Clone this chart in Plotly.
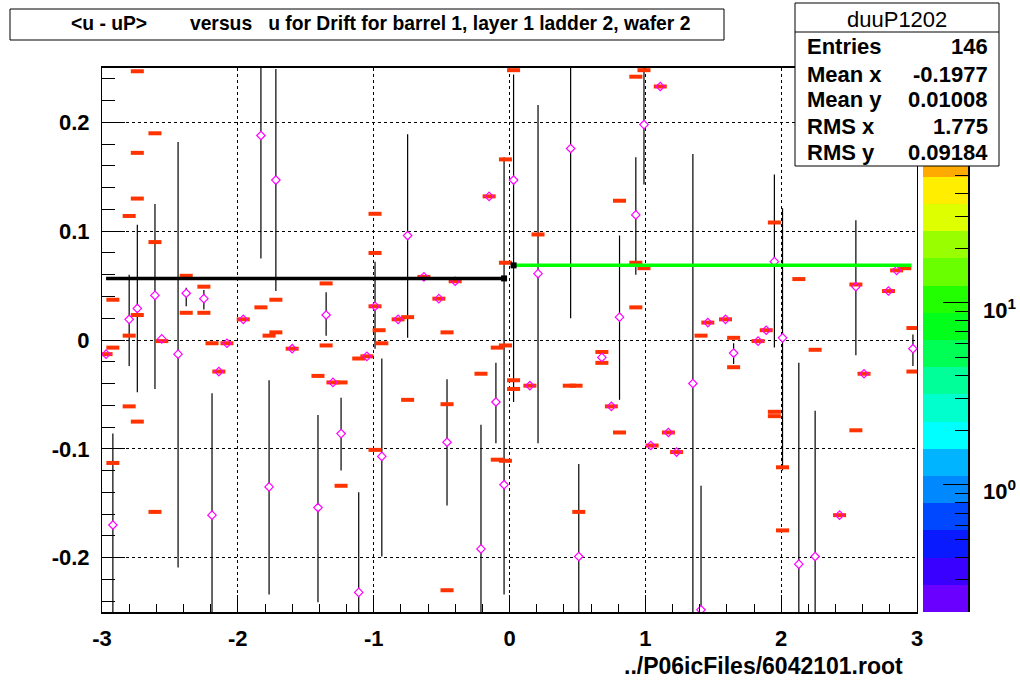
import numpy as np
import plotly.graph_objects as go

W, H = 1020, 680

# ---------------- data ----------------
# profile points (magenta diamonds) with upper / lower ends of their error bars
prof_x = [-2.97, -2.92, -2.80, -2.74, -2.61, -2.56, -2.44, -2.38, -2.25, -2.19, -2.14, -2.08,
          -1.96, -1.83, -1.77, -1.72, -1.60, -1.41, -1.35, -1.30, -1.24, -1.11, -1.05, -0.99,
          -0.94, -0.82, -0.75, -0.63, -0.52, -0.46, -0.40, -0.21, -0.15, -0.10, -0.04, 0.03,
          0.15, 0.21, 0.45, 0.51, 0.68, 0.75, 0.81, 0.93, 0.99, 1.04, 1.11, 1.17, 1.23, 1.35,
          1.41, 1.46, 1.59, 1.65, 1.83, 1.89, 1.95, 2.01, 2.13, 2.25, 2.43, 2.55, 2.61, 2.79,
          2.85, 2.97]
prof_y = [-0.013, -0.170, 0.019, 0.029, 0.041, 0.001, -0.013, 0.043, 0.038, -0.161, -0.029, -0.003,
          0.019, 0.188, -0.135, 0.147, -0.008, -0.154, 0.023, -0.039, -0.086, -0.232, -0.015, 0.031,
          -0.107, 0.019, 0.096, 0.058, 0.038, -0.094, 0.054, -0.192, 0.132, -0.057, -0.133, 0.147,
          -0.042, 0.061, 0.176, -0.199, -0.016, -0.061, 0.021, 0.115, 0.198, -0.097, 0.233, -0.085,
          -0.103, -0.040, -0.248, 0.016, 0.019, -0.012, -0.001, 0.009, 0.072, 0.002, -0.206, -0.199,
          -0.161, 0.049, -0.031, 0.045, 0.064, -0.008]
prof_hi = [-0.013, -0.086, 0.060, 0.106, 0.125, 0.001, 0.182, 0.048, 0.046, -0.049, -0.029, -0.003,
           0.019, 0.270, -0.037, 0.249, -0.008, -0.069, 0.044, -0.039, -0.053, -0.140, -0.015, 0.072,
           -0.017, 0.019, 0.189, 0.058, 0.038, -0.036, 0.054, -0.078, 0.132, -0.021, 0.168, 0.244,
           -0.042, 0.216, 0.270, -0.114, -0.016, -0.061, 0.096, 0.168, 0.270, -0.097, 0.233, -0.085,
           -0.103, 0.171, -0.134, 0.016, 0.019, -0.003, -0.001, 0.009, 0.152, 0.121, -0.021, -0.065,
           -0.161, 0.110, -0.031, 0.045, 0.064, 0.005]
prof_lo = [-0.013, -0.270, -0.024, -0.048, -0.045, 0.001, -0.209, 0.031, 0.028, -0.270, -0.029, -0.003,
           0.019, 0.075, -0.234, 0.045, -0.008, -0.241, 0.004, -0.039, -0.120, -0.270, -0.015, -0.008,
           -0.199, 0.019, 0.002, 0.058, 0.038, -0.152, 0.054, -0.270, 0.132, -0.095, -0.234, -0.057,
           -0.042, -0.095, 0.020, -0.270, -0.016, -0.061, -0.055, 0.060, 0.143, -0.097, 0.233, -0.085,
           -0.103, -0.270, -0.270, 0.016, 0.019, -0.022, -0.001, 0.009, -0.007, -0.120, -0.270, -0.270,
           -0.161, -0.014, -0.031, 0.045, 0.064, -0.024]

# occupied 2D-histogram cells (red bars)
cell_x = [-2.74, -2.61, -2.74, -2.74, -2.80, -2.61, -2.38, -2.25, -2.92, -1.83, -1.72, -1.35, -0.99,
          -0.99, -2.74, -2.38, -2.25, -2.80, -1.77, -1.72, -1.96, -0.99, -0.96,
          -2.92, -2.97, -2.56, -2.19, -2.08, -1.60, -1.35, -1.11, -1.05, -2.14, -1.41, -1.30, -1.24,
          -2.80, -2.74, -0.99, -2.92, -1.24, -2.61,
          0.03, -0.03, -0.03, -0.15, 0.21, 0.81, 0.93, 0.99, 0.93, 0.99, 0.93, -0.40, -0.52, -0.63,
          -0.82, -0.75, -0.46,
          -0.94, -0.09, -0.03, -0.21, -0.75, -0.46, 0.03, 0.03, 0.15, 0.44, 0.49, 0.68, 0.68, 0.75,
          0.81, -0.09, -0.03, 0.51, -0.46,
          1.11, 1.95, 2.13, 2.55, 2.85, 2.91, 2.79, 2.97, 1.46, 1.59, 1.41, 1.65, 1.89, 1.83,
          1.65, 2.25, 2.97, 2.61, 1.95, 1.95, 2.55, 1.17, 1.05, 1.23, 2.01, 2.43, 2.01]
cell_y = [0.247, 0.190, 0.172, 0.130, 0.114, 0.090, 0.059, 0.049, 0.037, 0.030, 0.037, 0.052, 0.116,
          0.080, 0.023, 0.025, 0.025, 0.004, 0.004, 0.007, 0.019, 0.031, 0.009,
          -0.007, -0.013, -0.001, -0.003, -0.003, -0.008, -0.005, -0.017, -0.015, -0.029, -0.033,
          -0.039, -0.039, -0.061, -0.075, -0.101, -0.113, -0.134, -0.158,
          0.248, 0.166, 0.071, 0.132, 0.097, 0.128, 0.071, 0.066, 0.242, 0.248, 0.030, 0.054, 0.038,
          0.058, 0.019, 0.021, 0.007,
          -0.003, -0.007, -0.005, -0.031, -0.055, -0.059, -0.037, -0.045, -0.042, -0.042, -0.042,
          -0.011, -0.021, -0.061, -0.085, -0.110, -0.111, -0.158, -0.230,
          0.233, 0.108, 0.056, 0.051, 0.064, 0.066, 0.045, 0.011, 0.016, 0.019, 0.004, 0.002, 0.009,
          -0.001, -0.025, -0.009, -0.029, -0.031, -0.066, -0.070, -0.083, -0.085, -0.097, -0.103,
          -0.117, -0.161, -0.175]

# fitted constants on both halves
fit_left_x = [-2.97, -0.04]
fit_left_y = [0.0566, 0.0566]
fit_right_x = [0.03, 2.96]
fit_right_y = [0.0686, 0.0686]

x_tickvals = [-3, -2, -1, 0, 1, 2, 3]
x_ticktext = ["-3", "-2", "-1", "0", "1", "2", "3"]
y_tickvals = [-0.2, -0.1, 0, 0.1, 0.2]
y_ticktext = ["-0.2", "-0.1", "0", "0.1", "0.2"]

stats_labels = ["Entries", "Mean x", "Mean y", "RMS x", "RMS y"]
stats_values = ["146", "-0.1977", "0.01008", "1.775", "0.09184"]

palette = ["#6a00ff", "#3a00ff", "#0a1aff", "#0048ff", "#0088ff", "#00b4ff", "#00ffff",
           "#00ffcc", "#00ff99", "#00ff55", "#00ff1a", "#22ff00", "#6aff00", "#99ff00",
           "#ddff00", "#ffee00", "#ffaa00", "#ff7700", "#ff4400", "#ff2200"]
z_log_range = [-0.699, 2.291]

# ---------------- layout helpers ----------------
def px(xp):
    return xp / W

def py(yp):
    return 1 - yp / H

FONT = "Liberation Sans, Arial, Helvetica, sans-serif"

fig = go.Figure()

# error bars
plus = [h - y for h, y in zip(prof_hi, prof_y)]
minus = [y - l for y, l in zip(prof_y, prof_lo)]
fig.add_trace(go.Scatter(
    x=prof_x, y=prof_y, mode="markers",
    marker=dict(size=1, color="rgba(0,0,0,0)"),
    error_y=dict(type="data", symmetric=False, array=plus, arrayminus=minus,
                 color="black", thickness=1.2, width=0),
    hoverinfo="skip", showlegend=False))
# white interior of diamonds (gap in error bars)
fig.add_trace(go.Scatter(
    x=prof_x, y=prof_y, mode="markers",
    marker=dict(symbol="diamond", size=6.5, color="white", line=dict(width=0)),
    hoverinfo="skip", showlegend=False))
# 2D histogram cells
fig.add_trace(go.Scatter(
    x=cell_x, y=cell_y, mode="markers",
    marker=dict(symbol="line-ew", size=9.3, line=dict(color="#ff3300", width=4)),
    showlegend=False))
# diamond outlines
fig.add_trace(go.Scatter(
    x=prof_x, y=prof_y, mode="markers",
    marker=dict(symbol="diamond-open", size=6.5, color="#ff00ff", line=dict(color="#ff00ff", width=1.2)),
    showlegend=False))
# fits
fig.add_trace(go.Scatter(x=fit_left_x, y=fit_left_y, mode="lines",
                         line=dict(color="black", width=3.5), showlegend=False))
fig.add_trace(go.Scatter(x=fit_right_x, y=fit_right_y, mode="lines",
                         line=dict(color="#00ff00", width=3.5), showlegend=False))
fig.add_trace(go.Scatter(x=[fit_left_x[1], fit_right_x[0]], y=[fit_left_y[1], fit_right_y[0]],
                         mode="markers", marker=dict(symbol="square", size=6, color="black"),
                         showlegend=False))

# palette (color bar) as heatmap on log axis
nb = len(palette)
edges = np.logspace(z_log_range[0], z_log_range[1], nb + 1)
cs = []
for i, c in enumerate(palette):
    cs.append([i / (nb - 1), c])
fig.add_trace(go.Heatmap(
    x=[0, 1], y=edges, z=[[i] for i in range(nb)],
    colorscale=cs, zmin=0, zmax=nb - 1, showscale=False,
    xaxis="x2", yaxis="y2", hoverinfo="skip"))

tickfont = dict(family=FONT, size=22, color="black", weight="bold")

fig.update_layout(
    template="none",
    width=W, height=H,
    margin=dict(l=0, r=0, t=0, b=0, pad=0),
    paper_bgcolor="white", plot_bgcolor="white",
    xaxis=dict(domain=[px(102), px(917)], range=[-3, 3], anchor="y", automargin=False,
               tickmode="array", tickvals=x_tickvals, ticktext=x_ticktext,
               ticks="inside", ticklen=17, tickwidth=1, tickcolor="black",
               minor=dict(tick0=0, dtick=0.2, ticks="inside", ticklen=8, tickcolor="black", showgrid=False),
               showline=True, linecolor="black", linewidth=1.5, mirror=True,
               showgrid=True, gridcolor="black", gridwidth=1, griddash="3px,3px",
               zeroline=False, tickfont=tickfont, ticklabelstandoff=6),
    yaxis=dict(domain=[py(612), py(68)], range=[-0.25, 0.25], anchor="x", automargin=False,
               tickmode="array", tickvals=y_tickvals, ticktext=y_ticktext,
               ticks="inside", ticklen=23, tickwidth=1, tickcolor="black",
               minor=dict(tick0=0, dtick=0.02, ticks="inside", ticklen=13, tickcolor="black", showgrid=False),
               showline=True, linecolor="black", linewidth=1, mirror=True,
               showgrid=True, gridcolor="black", gridwidth=1, griddash="3px,3px",
               zeroline=False, tickfont=tickfont, ticklabelstandoff=7),
    xaxis2=dict(domain=[px(923), px(968)], range=[0, 1], anchor="y2", visible=False, automargin=False),
    yaxis2=dict(domain=[py(612), py(68)], type="log", range=z_log_range, anchor="x2", automargin=False,
                side="right", dtick=1, ticks="inside", ticklen=25, tickwidth=1, tickcolor="black",
                minor=dict(ticks="inside", ticklen=13, tickwidth=1, tickcolor="black", dtick="D1",
                           showgrid=False),
                showticklabels=False, showline=True, linecolor="black", linewidth=1.5,
                layer="above traces", showgrid=False, zeroline=False),
)

shapes = []
annotations = []
# title box
shapes.append(dict(type="rect", xref="paper", yref="paper", x0=px(10), x1=px(724), y0=py(40), y1=py(9),
                   line=dict(color="black", width=1), fillcolor="white", layer="above"))
annotations.append(dict(xref="paper", yref="paper", x=px(380), y=py(24), xanchor="center", yanchor="middle",
                        showarrow=False,
                        text="&lt;u - uP&gt;\u00a0\u00a0\u00a0\u00a0\u00a0\u00a0\u00a0 versus\u00a0\u00a0 u for Drift for barrel 1, layer 1 ladder 2, wafer 2",
                        font=dict(family=FONT, size=19.3, color="black", weight="bold")))
# stats box
shapes.append(dict(type="rect", xref="paper", yref="paper", x0=px(795), x1=px(999), y0=py(166), y1=py(3),
                   line=dict(color="black", width=1), fillcolor="white", layer="above"))
shapes.append(dict(type="line", xref="paper", yref="paper", x0=px(795), x1=px(999), y0=py(32), y1=py(32),
                   line=dict(color="black", width=1), layer="above"))
annotations.append(dict(xref="paper", yref="paper", x=px(897), y=py(19), xanchor="center", yanchor="middle",
                        showarrow=False, text="duuP1202",
                        font=dict(family=FONT, size=22, color="black")))
row_y = [47, 74, 99, 126, 153]
for lab, val, ry in zip(stats_labels, stats_values, row_y):
    annotations.append(dict(xref="paper", yref="paper", x=px(805), y=py(ry), xanchor="left", yanchor="middle",
                            showarrow=False, text=lab,
                            font=dict(family=FONT, size=22, color="black", weight="bold")))
    annotations.append(dict(xref="paper", yref="paper", x=px(990), y=py(ry), xanchor="right", yanchor="middle",
                            showarrow=False, text=val,
                            font=dict(family=FONT, size=22, color="black", weight="bold")))
# color bar labels, kept inside the page
for ly, t in [(309, "10<sup>1</sup>"), (490, "10<sup>0</sup>")]:
    annotations.append(dict(xref="paper", yref="paper", x=px(1018), y=py(ly), xanchor="right", yanchor="middle",
                            showarrow=False, text=t,
                            font=dict(family=FONT, size=22, color="black", weight="bold")))
# file name
annotations.append(dict(xref="paper", yref="paper", x=px(905), y=py(666), xanchor="right", yanchor="middle",
                        showarrow=False, text="../P06icFiles/6042101.root",
                        font=dict(family=FONT, size=23, color="black", weight="bold")))

fig.update_layout(shapes=shapes, annotations=annotations)
fig.write_html("out.html", config={"displayModeBar": False},
               post_script="document.body.style.margin='0px';document.body.style.overflow='hidden';")
